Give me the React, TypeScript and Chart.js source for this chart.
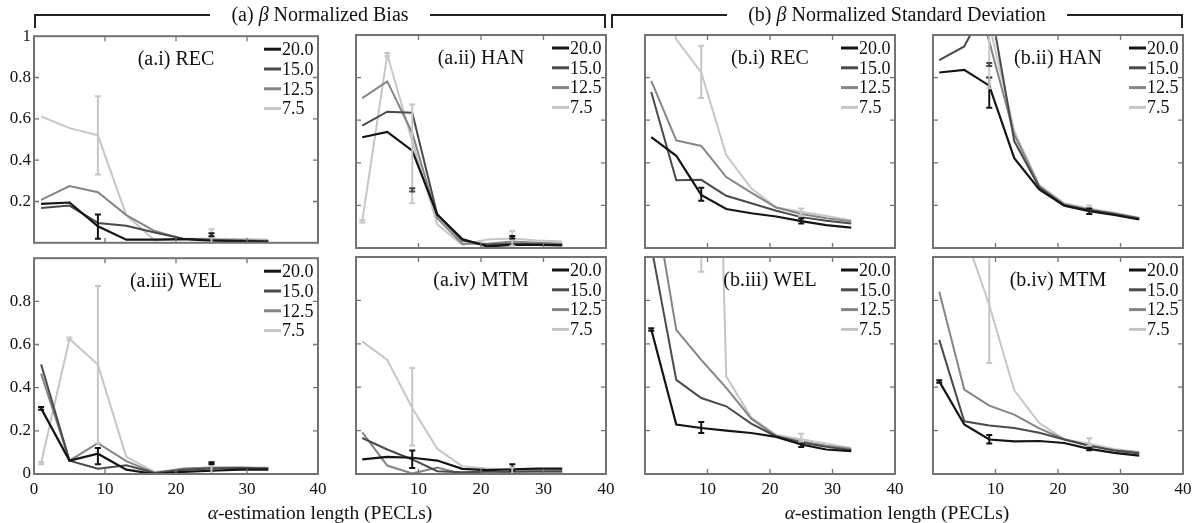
import React, { useEffect, useRef } from 'react';
import { Chart, registerables } from 'chart.js';

Chart.register(...registerables);

// α-estimation lengths (PECLs) at which every curve is sampled
const peclLengths = [1, 5, 9, 13, 17, 21, 25, 29, 33];
// curve labels (legend order) and their grey levels
const seriesLabels = ['20.0', '15.0', '12.5', '7.5'];
const seriesColors = ['#141414', '#4a4a4a', '#858585', '#c6c6c6'];
const xTickValues = [0, 10, 20, 30, 40];
const yTickValues = [0, 0.2, 0.4, 0.6, 0.8, 1];

// (a) β normalized bias — one row per curve (20.0, 15.0, 12.5, 7.5)
const biasREC = [
  [0.188, 0.195, 0.08, 0.015, 0.015, 0.018, 0.01, 0.008, 0.005],
  [0.168, 0.18, 0.096, 0.082, 0.05, 0.02, 0.015, 0.01, 0.008],
  [0.208, 0.275, 0.245, 0.134, 0.057, 0.019, 0.015, 0.012, 0.01],
  [0.612, 0.555, 0.52, 0.134, 0.011, 0.02, 0.02, 0.018, 0.015],
];
const biasHAN = [
  [0.52, 0.545, 0.457, 0.157, 0.042, 0.008, 0.015, 0.015, 0.012],
  [0.574, 0.64, 0.635, 0.157, 0.035, 0.015, 0.02, 0.018, 0.015],
  [0.704, 0.782, 0.54, 0.14, 0.02, 0.02, 0.03, 0.025, 0.02],
  [0.126, 0.908, 0.5, 0.111, 0.015, 0.04, 0.045, 0.035, 0.03],
];
const biasWEL = [
  [0.304, 0.062, 0.094, 0.02, 0.0, 0.01, 0.015, 0.02, 0.02],
  [0.508, 0.062, 0.024, 0.04, 0.005, 0.02, 0.025, 0.028, 0.025],
  [0.465, 0.062, 0.143, 0.06, 0.005, 0.025, 0.03, 0.03, 0.025],
  [0.051, 0.626, 0.507, 0.079, 0.01, 0.02, 0.025, 0.03, 0.03],
];
const biasMTM = [
  [0.067, 0.079, 0.075, 0.062, 0.024, 0.018, 0.022, 0.025, 0.025],
  [0.166, 0.113, 0.067, 0.013, 0.008, 0.01, 0.012, 0.013, 0.013],
  [0.192, 0.039, 0.002, 0.03, 0.0, 0.015, 0.005, 0.003, 0.003],
  [0.611, 0.526, 0.304, 0.116, 0.036, 0.025, 0.02, 0.02, 0.02],
];

// (b) β normalized standard deviation — same curve order
const stdREC = [
  [0.52, 0.433, 0.249, 0.183, 0.163, 0.148, 0.126, 0.107, 0.096],
  [0.732, 0.318, 0.32, 0.245, 0.21, 0.175, 0.145, 0.128, 0.115],
  [0.785, 0.505, 0.479, 0.333, 0.26, 0.19, 0.16, 0.14, 0.125],
  [1.5, 0.98, 0.824, 0.436, 0.28, 0.19, 0.17, 0.15, 0.13],
];
const stdHAN = [
  [0.824, 0.836, 0.762, 0.422, 0.275, 0.199, 0.173, 0.155, 0.134],
  [0.882, 0.946, 1.17, 0.502, 0.285, 0.2, 0.178, 0.16, 0.138],
  [1.3, 1.35, 0.97, 0.532, 0.29, 0.205, 0.18, 0.162, 0.14],
  [1.6, 1.5, 1.05, 0.55, 0.295, 0.21, 0.185, 0.165, 0.142],
];
const stdWEL = [
  [0.667, 0.228, 0.212, 0.2, 0.189, 0.171, 0.136, 0.113, 0.105],
  [1.05, 0.434, 0.35, 0.312, 0.232, 0.173, 0.145, 0.125, 0.11],
  [1.35, 0.664, 0.526, 0.397, 0.255, 0.175, 0.15, 0.13, 0.115],
  [5.0, 5.5, 4.8, 0.45, 0.26, 0.18, 0.16, 0.14, 0.12],
];
const stdMTM = [
  [0.427, 0.228, 0.159, 0.15, 0.152, 0.143, 0.116, 0.097, 0.085],
  [0.618, 0.243, 0.223, 0.212, 0.19, 0.159, 0.13, 0.108, 0.095],
  [0.84, 0.389, 0.315, 0.274, 0.21, 0.16, 0.13, 0.11, 0.1],
  [1.6, 1.114, 0.779, 0.386, 0.235, 0.16, 0.14, 0.115, 0.1],
];

// error bars: [curve index, PECL length, low, high]
const biasRECErr = [[0, 9, 0.019, 0.137], [3, 9, 0.33, 0.709], [3, 25, 0.0, 0.065], [0, 25, 0.032, 0.046]];
const biasHANErr = [[3, 9, 0.21, 0.674], [1, 9, 0.265, 0.28], [3, 25, 0.01, 0.08], [0, 25, 0.045, 0.056], [3, 5, 0.9, 0.915], [3, 1, 0.12, 0.132]];
const biasWELErr = [[0, 9, 0.045, 0.12], [3, 9, 0.143, 0.871], [3, 25, 0.0, 0.055], [0, 25, 0.045, 0.055], [0, 1, 0.298, 0.31], [3, 5, 0.62, 0.632], [3, 1, 0.045, 0.056]];
const biasMTMErr = [[0, 9, 0.028, 0.108], [3, 9, 0.131, 0.488], [0, 25, 0.015, 0.045], [3, 25, 0.0, 0.03]];
const stdRECErr = [[0, 9, 0.222, 0.283], [3, 9, 0.704, 0.949], [0, 25, 0.115, 0.138], [3, 25, 0.15, 0.185]];
const stdHANErr = [[0, 9, 0.658, 0.8], [3, 9, 0.75, 1.2], [1, 9, 0.855, 0.868], [3, 25, 0.16, 0.2], [0, 25, 0.16, 0.185]];
const stdWELErr = [[0, 9, 0.189, 0.24], [3, 9, 0.932, 5], [0, 25, 0.125, 0.145], [3, 25, 0.15, 0.185], [0, 1, 0.66, 0.672]];
const stdMTMErr = [[0, 9, 0.14, 0.18], [3, 9, 0.511, 1.2], [0, 25, 0.11, 0.125], [3, 25, 0.13, 0.165], [0, 1, 0.42, 0.432]];

const panelTitles = ['(a.i) REC', '(a.ii) HAN', '(b.i) REC', '(b.ii) HAN', '(a.iii) WEL', '(a.iv) MTM', '(b.iii) WEL', '(b.iv) MTM'];
const groupTitles = ['(a)', '(b)'];
const groupNames = ['Normalized Bias', 'Normalized Standard Deviation'];
const xAxisTitle = 'length (PECLs)';

const SERIF = '"Liberation Serif", "Times New Roman", "DejaVu Serif", serif';
const INK = '#111';
const FRAME = '#737373';

// plot-area boxes in page pixels
const COL_L = [34, 322, 611, 899];
const COL_R = [318, 606, 895, 1183];
const ROW_T = [35, 257];
const ROW_B = [252, 474];

type Panel = { title: string; values: number[][]; errs: number[][]; col: number; row: number };

const panels: Panel[] = [
  { title: panelTitles[0], values: biasREC, errs: biasRECErr, col: 0, row: 0 },
  { title: panelTitles[1], values: biasHAN, errs: biasHANErr, col: 1, row: 0 },
  { title: panelTitles[2], values: stdREC, errs: stdRECErr, col: 2, row: 0 },
  { title: panelTitles[3], values: stdHAN, errs: stdHANErr, col: 3, row: 0 },
  { title: panelTitles[4], values: biasWEL, errs: biasWELErr, col: 0, row: 1 },
  { title: panelTitles[5], values: biasMTM, errs: biasMTMErr, col: 1, row: 1 },
  { title: panelTitles[6], values: stdWEL, errs: stdWELErr, col: 2, row: 1 },
  { title: panelTitles[7], values: stdMTM, errs: stdMTMErr, col: 3, row: 1 },
];

function PanelChart({ p }: { p: Panel }) {
  const ref = useRef<HTMLCanvasElement>(null);
  const first = p.col === 0;
  const bottom = p.row === 1;
  const mL = first ? 34 : 6;
  const mR = 14;
  const mT = 12;
  const mB = bottom ? 32 : 4;
  const L = COL_L[p.col], R = COL_R[p.col], T = ROW_T[p.row], B = ROW_B[p.row];
  const w = R - L + mL + mR;
  const h = B - T + mT + mB;

  useEffect(() => {
    const deco = {
      id: 'panelDeco',
      afterDatasetsDraw(chart: any) {
        const { ctx, chartArea: a, scales } = chart;
        const xs = scales.x, ys = scales.y;
        ctx.save();
        ctx.beginPath();
        ctx.rect(a.left, a.top, a.right - a.left, a.bottom - a.top);
        ctx.clip();
        for (const [s, x, lo, hi] of p.errs) {
          const px = xs.getPixelForValue(x);
          const y0 = ys.getPixelForValue(lo);
          const y1 = ys.getPixelForValue(hi);
          ctx.strokeStyle = seriesColors[s];
          ctx.lineWidth = 2;
          ctx.beginPath();
          ctx.moveTo(px, y0); ctx.lineTo(px, y1);
          ctx.moveTo(px - 3, y0); ctx.lineTo(px + 3, y0);
          ctx.moveTo(px - 3, y1); ctx.lineTo(px + 3, y1);
          ctx.stroke();
        }
        ctx.restore();
      },
      afterDraw(chart: any) {
        const { ctx, chartArea: a, scales } = chart;
        const xs = scales.x, ys = scales.y;
        ctx.save();
        // frame
        ctx.strokeStyle = FRAME;
        ctx.lineWidth = 2;
        ctx.strokeRect(a.left, a.top, a.right - a.left, a.bottom - a.top);
        // inward tick marks on all four sides
        ctx.lineWidth = 1.3;
        ctx.beginPath();
        for (const v of xTickValues.slice(1, -1)) {
          const px = xs.getPixelForValue(v);
          ctx.moveTo(px, a.top); ctx.lineTo(px, a.top + 5);
          ctx.moveTo(px, a.bottom); ctx.lineTo(px, a.bottom - 5);
        }
        for (const v of yTickValues.slice(1, -1)) {
          const py = ys.getPixelForValue(v);
          ctx.moveTo(a.left, py); ctx.lineTo(a.left + 5, py);
          ctx.moveTo(a.right, py); ctx.lineTo(a.right - 5, py);
        }
        ctx.stroke();
        // panel title
        ctx.fillStyle = INK;
        ctx.font = `20px ${SERIF}`;
        ctx.textAlign = 'center';
        ctx.textBaseline = 'middle';
        ctx.fillText(p.title, (a.left + a.right) / 2, a.top + 24);
        // legend
        ctx.font = `18px ${SERIF}`;
        ctx.textAlign = 'left';
        seriesLabels.forEach((lab, i) => {
          const y = a.top + 13 + i * 19.8;
          ctx.strokeStyle = seriesColors[i];
          ctx.lineWidth = 3;
          ctx.beginPath();
          ctx.moveTo(a.right - 54, y);
          ctx.lineTo(a.right - 37, y);
          ctx.stroke();
          ctx.fillStyle = INK;
          ctx.fillText(lab, a.right - 36, y + 1);
        });
        ctx.restore();
      },
    };

    const chart = new Chart(ref.current as HTMLCanvasElement, {
      type: 'line',
      data: {
        datasets: p.values.map((vals, i) => ({
          label: seriesLabels[i],
          data: peclLengths.map((x, j) => ({ x, y: vals[j] })),
          borderColor: seriesColors[i],
          borderWidth: i === 0 ? 2.2 : 2,
          pointRadius: 0,
          tension: 0,
          fill: false,
        })),
      },
      options: {
        animation: false,
        responsive: false,
        events: [],
        layout: { padding: { left: first ? 0 : mL, right: mR, top: mT, bottom: bottom ? 0 : mB } },
        plugins: { legend: { display: false }, tooltip: { enabled: false } },
        scales: {
          x: {
            type: 'linear',
            min: 0,
            max: 40,
            display: bottom,
            afterBuildTicks: (s: any) => { s.ticks = xTickValues.map((v) => ({ value: v })); },
            afterFit: (s: any) => { s.height = mB; },
            ticks: {
              autoSkip: false,
              maxRotation: 0,
              padding: 5,
              color: INK,
              font: { family: SERIF, size: 17 },
              callback: (v: any) => (!first && v === 0 ? '' : String(v)),
            },
            grid: { display: false, drawTicks: false },
            border: { display: false },
          },
          y: {
            type: 'linear',
            min: 0,
            max: 1,
            display: first,
            afterBuildTicks: (s: any) => { s.ticks = yTickValues.map((v) => ({ value: v })); },
            afterFit: (s: any) => { s.width = 34; },
            ticks: {
              padding: 3,
              color: INK,
              font: { family: SERIF, size: 17 },
              callback: (v: any) => ((p.row === 0 && v === 0) || (p.row === 1 && v === 1) ? '' : String(v)),
            },
            grid: { display: false, drawTicks: false },
            border: { display: false },
          },
        },
      },
      plugins: [deco],
    } as any);
    return () => chart.destroy();
  }, []);

  return (
    <canvas
      ref={ref}
      width={w}
      height={h}
      style={{ position: 'absolute', left: L - mL, top: T - mT, width: w, height: h }}
    />
  );
}

function GroupHeader({ g }: { g: number }) {
  const left = COL_L[g * 2];
  const right = COL_R[g * 2 + 1];
  return (
    <div
      style={{
        position: 'absolute',
        left,
        top: 14,
        width: right - left,
        height: 14,
        borderTop: '2px solid #222',
        borderLeft: '2px solid #222',
        borderRight: '2px solid #222',
        boxSizing: 'border-box',
      }}
    >
      <div style={{ position: 'absolute', left: 0, right: 0, top: -13, textAlign: 'center', lineHeight: '22px' }}>
        <span style={{ background: '#fff', padding: '0 21px', fontSize: 20, color: INK, fontFamily: SERIF }}>
          {groupTitles[g]} <i>β</i> {groupNames[g]}
        </span>
      </div>
    </div>
  );
}

function AxisTitle({ g }: { g: number }) {
  const left = COL_L[g * 2];
  const right = COL_R[g * 2 + 1];
  return (
    <div
      style={{
        position: 'absolute',
        left,
        width: right - left,
        top: 501,
        textAlign: 'center',
        fontSize: 19.5,
        lineHeight: '24px',
        fontFamily: SERIF,
        color: INK,
      }}
    >
      <i>α</i>-estimation {xAxisTitle}
    </div>
  );
}

export default function App() {
  return (
    <div style={{ position: 'absolute', left: 0, top: 0, width: 1199, height: 523, background: '#fff', overflow: 'hidden' }}>
      {panels.map((p, i) => (
        <PanelChart key={i} p={p} />
      ))}
      <GroupHeader g={0} />
      <GroupHeader g={1} />
      <AxisTitle g={0} />
      <AxisTitle g={1} />
    </div>
  );
}
